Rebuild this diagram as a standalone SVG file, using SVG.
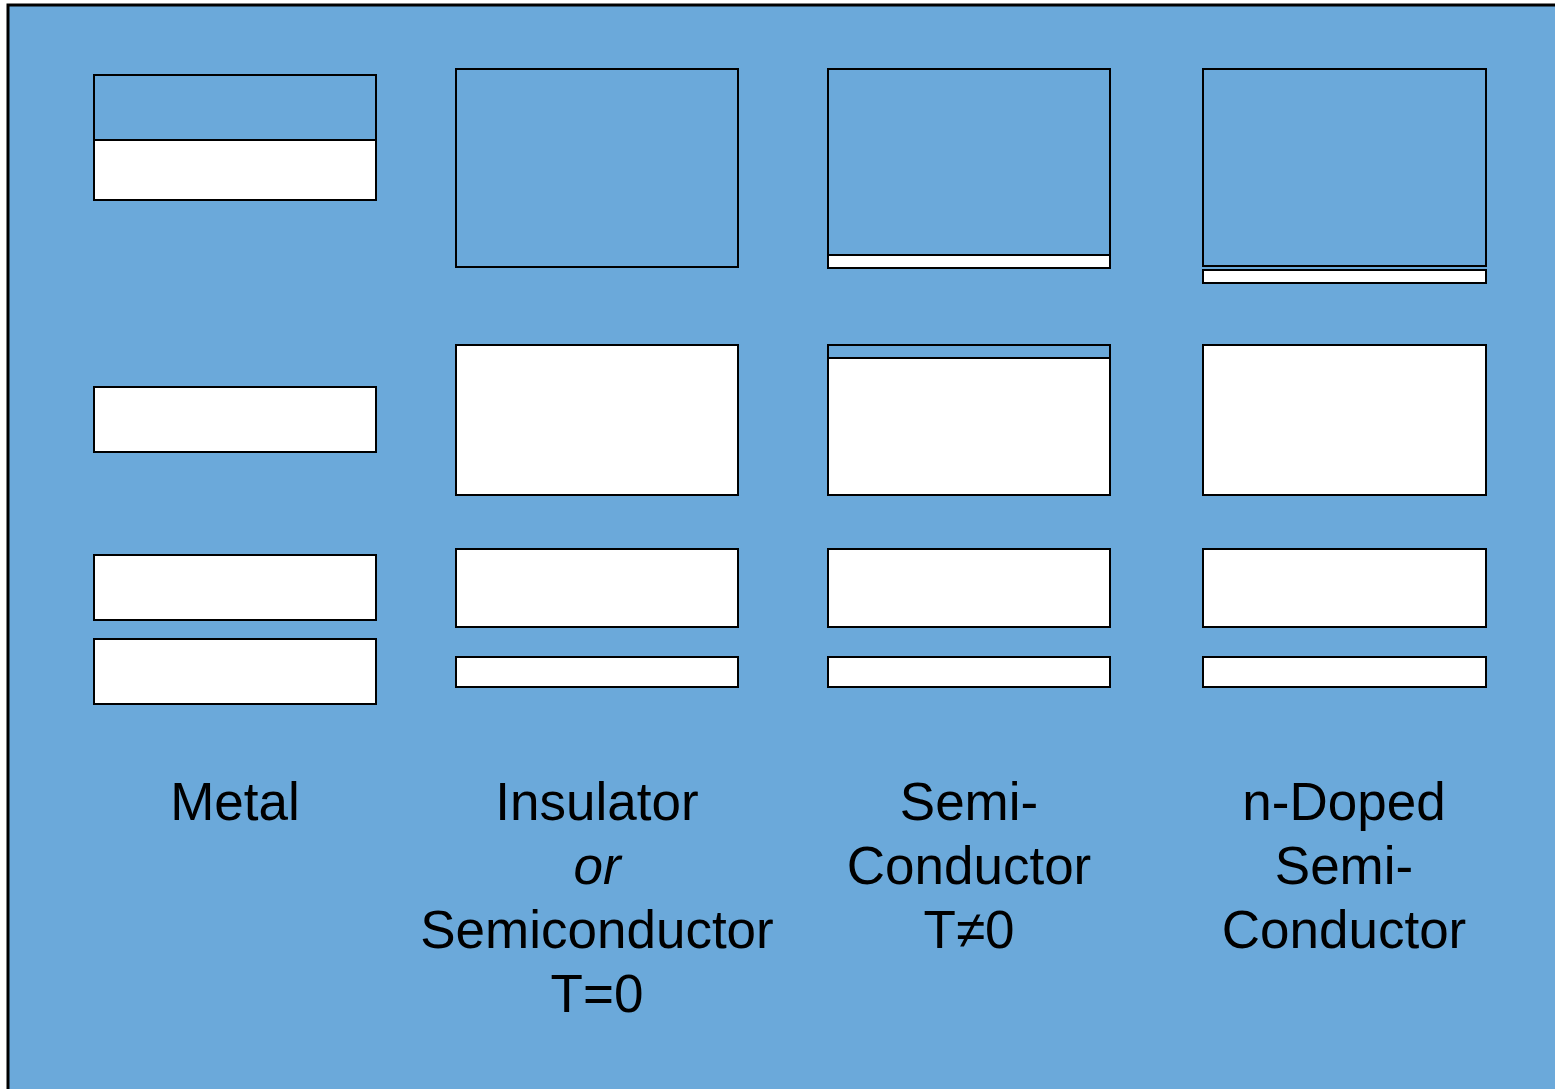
<svg xmlns="http://www.w3.org/2000/svg" width="1555" height="1089" viewBox="0 0 1555 1089">
<style>
.b{fill:#6BA9DA;stroke:#000;stroke-width:2}
.w{fill:#FFFFFF;stroke:#000;stroke-width:2}
.t{font-family:"Liberation Sans",Arial,sans-serif;font-size:53px;fill:#000;text-anchor:middle}
</style>
<rect x="8" y="5" width="1560" height="1100" fill="#6BA9DA" stroke="#000" stroke-width="3"/>
<g id="metal">
<rect class="b" x="94" y="75" width="282" height="125"/>
<rect class="w" x="94" y="140" width="282" height="60"/>
<rect class="w" x="94" y="387" width="282" height="65"/>
<rect class="w" x="94" y="555" width="282" height="65"/>
<rect class="w" x="94" y="639" width="282" height="65"/>
<text class="t" x="235" y="820">Metal</text>
</g>
<g id="insulator">
<rect class="b" x="456" y="69" width="282" height="198"/>
<rect class="w" x="456" y="345" width="282" height="150"/>
<rect class="w" x="456" y="549" width="282" height="78"/>
<rect class="w" x="456" y="657" width="282" height="30"/>
<text class="t" x="597" y="820">Insulator</text>
<text class="t" x="597" y="884" font-style="italic">or</text>
<text class="t" x="597" y="948">Semiconductor</text>
<text class="t" x="597" y="1012">T=0</text>
</g>
<g id="semiconductor">
<rect class="b" x="828" y="69" width="282" height="199"/>
<rect class="w" x="828" y="255" width="282" height="13"/>
<rect class="w" x="828" y="345" width="282" height="150"/>
<rect class="b" x="828" y="345" width="282" height="13"/>
<rect class="w" x="828" y="549" width="282" height="78"/>
<rect class="w" x="828" y="657" width="282" height="30"/>
<text class="t" x="969" y="820">Semi-</text>
<text class="t" x="969" y="884">Conductor</text>
<text class="t" x="969" y="948">T≠0</text>
</g>
<g id="ndoped">
<rect class="b" x="1203" y="69" width="283" height="197"/>
<rect class="w" x="1203" y="270" width="283" height="13"/>
<rect class="w" x="1203" y="345" width="283" height="150"/>
<rect class="w" x="1203" y="549" width="283" height="78"/>
<rect class="w" x="1203" y="657" width="283" height="30"/>
<text class="t" x="1344" y="820">n-Doped</text>
<text class="t" x="1344" y="884">Semi-</text>
<text class="t" x="1344" y="948">Conductor</text>
</g>
<g id="connectors"/>
</svg>
